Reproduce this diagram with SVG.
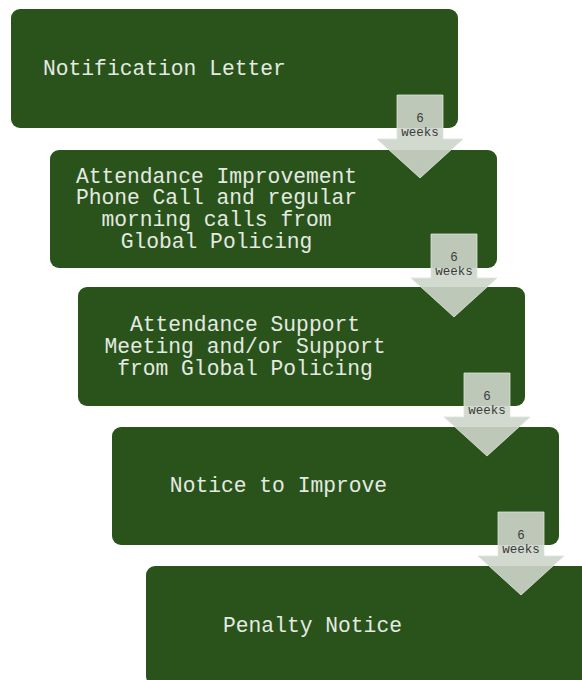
<svg xmlns="http://www.w3.org/2000/svg" width="582" height="680" viewBox="0 0 582 680">
<style>
.box{fill:#29531b;}
.t{font-family:"Liberation Mono","Courier New",monospace;font-size:21.3px;fill:#e4eae1;text-anchor:middle;}
.arr{fill:#cdd5ca;fill-opacity:0.9;stroke:#dfe5dc;stroke-width:1;stroke-opacity:0.8;}
.at{font-family:"Liberation Mono","Courier New",monospace;font-size:12.5px;fill:#3a3a3a;text-anchor:middle;}
</style>
<rect width="582" height="680" fill="#ffffff"/>
<g id="node1"><rect class="box" x="11" y="9" width="447" height="119" rx="9"/><text class="t" x="43" y="75" style="text-anchor:start">Notification Letter</text></g>
<g id="node2"><rect class="box" x="50" y="150" width="447" height="118" rx="9"/><text class="t" x="216.5" y="182.5">Attendance Improvement<tspan x="216.5" dy="21.8">Phone Call and regular</tspan><tspan x="216.5" dy="21.8">morning calls from</tspan><tspan x="216.5" dy="21.8">Global Policing</tspan></text></g>
<g id="node3"><rect class="box" x="78" y="287" width="447" height="119" rx="9"/><text class="t" x="245" y="331">Attendance Support<tspan x="245" dy="21.8">Meeting and/or Support</tspan><tspan x="245" dy="21.8">from Global Policing</tspan></text></g>
<g id="node4"><rect class="box" x="112" y="427" width="447" height="118" rx="9"/><text class="t" x="278.5" y="492">Notice to Improve</text></g>
<g id="node5"><rect class="box" x="146" y="566" width="447" height="119" rx="9"/><text class="t" x="312.5" y="632">Penalty Notice</text></g>
<g id="connectors">
<g><path class="arr" d="M397 95 H443 V139 H463 L420 178 L377 139 H397 Z"/><text class="at" x="420" y="121.5">6</text><text class="at" x="420" y="136">weeks</text></g>
<g><path class="arr" d="M431 234 H477 V278 H497 L454 317 L411 278 H431 Z"/><text class="at" x="454" y="260.5">6</text><text class="at" x="454" y="275">weeks</text></g>
<g><path class="arr" d="M464 373 H510 V417 H530 L487 456 L444 417 H464 Z"/><text class="at" x="487" y="399.5">6</text><text class="at" x="487" y="414">weeks</text></g>
<g><path class="arr" d="M498 512 H544 V556 H564 L521 595 L478 556 H498 Z"/><text class="at" x="521" y="538.5">6</text><text class="at" x="521" y="553">weeks</text></g>
</g>
</svg>
